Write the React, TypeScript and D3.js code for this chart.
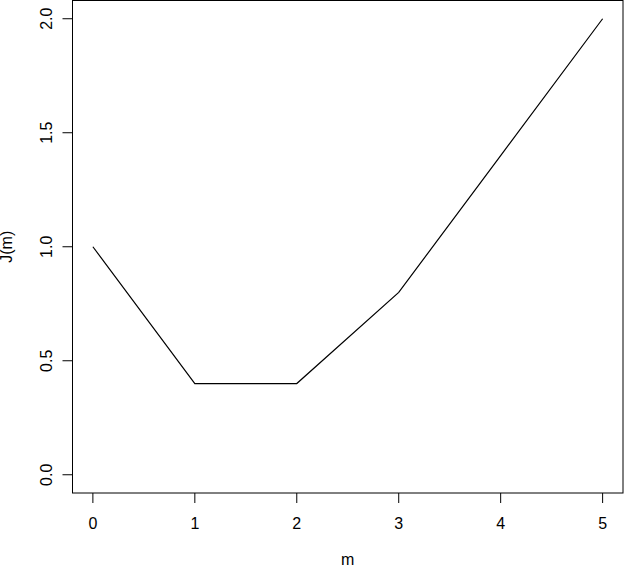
import React from "react";
import * as d3 from "d3";

const mValues = [0, 1, 2, 3, 4, 5];
const jValues = [1.0, 0.4, 0.4, 0.8, 1.4, 2.0];
const xTicks = [0, 1, 2, 3, 4, 5];
const yTicks = [0, 0.5, 1.0, 1.5, 2.0];

const W = 624;
const H = 566;
const left = 72.5;
const right = 623;
const top = 0.5;
const bottom = 493;

export default function App() {
  const x = d3.scaleLinear().domain([-0.2, 5.2]).range([left, right]);
  const y = d3.scaleLinear().domain([-0.08, 2.08]).range([bottom, top]);
  const line = d3
    .line<number>()
    .x((_, i) => x(mValues[i]))
    .y((d) => y(d));
  const font = "'Liberation Sans', Arial, Helvetica, sans-serif";
  return (
    <svg
      width={W}
      height={H}
      style={{ position: "absolute", left: 0, top: 0, background: "#fff" }}
      fontFamily={font}
      fontSize={16}
    >
      <rect x={0} y={0} width={W} height={H} fill="#fff" />
      <rect
        x={left}
        y={top}
        width={right - left}
        height={bottom - top}
        fill="none"
        stroke="#000"
        strokeWidth={1}
      />
      <path d={line(jValues) || ""} fill="none" stroke="#000" strokeWidth={1.2} />
      {xTicks.map((t) => (
        <g key={"x" + t}>
          <line x1={x(t)} x2={x(t)} y1={bottom} y2={bottom + 10} stroke="#000" />
          <text x={x(t)} y={528.5} textAnchor="middle" fill="#000">
            {String(t)}
          </text>
        </g>
      ))}
      {yTicks.map((t) => (
        <g key={"y" + t}>
          <line x1={left - 10} x2={left} y1={y(t)} y2={y(t)} stroke="#000" />
          <text
            transform={`translate(52,${y(t)}) rotate(-90)`}
            textAnchor="middle"
            fill="#000"
          >
            {t.toFixed(1)}
          </text>
        </g>
      ))}
      <text x={(left + right) / 2} y={565} textAnchor="middle" fill="#000">
        m
      </text>
      <text
        transform={`translate(12,${(top + bottom) / 2}) rotate(-90)`}
        textAnchor="middle"
        fill="#000"
      >
        J(m)
      </text>
    </svg>
  );
}
